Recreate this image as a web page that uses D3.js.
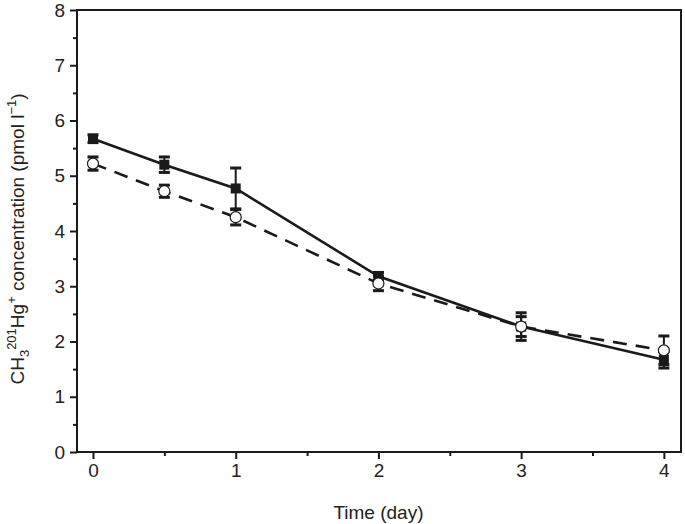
<!DOCTYPE html>
<html><head><meta charset="utf-8">
<script src="https://cdn.jsdelivr.net/npm/d3@7"></script>
<style>body{margin:0;background:#fff}svg{display:block}text{font-family:"Liberation Sans",Arial,Helvetica,sans-serif;fill:#222}</style>
</head><body><svg id="c" width="685" height="524"></svg>
<script>
const days = [0, 0.5, 1, 2, 3, 4];
const filledVals = [5.67, 5.20, 4.77, 3.18, 2.27, 1.67];
const filledErr  = [0.07, 0.14, 0.37, 0.07, 0.18, 0.15];
const openVals   = [5.22, 4.72, 4.25, 3.05, 2.27, 1.84];
const openErr    = [0.12, 0.11, 0.14, 0.13, 0.25, 0.26];
const xTicks = [0, 1, 2, 3, 4];
const xMinor = [0.5, 1.5, 2.5, 3.5];
const yTicks = [0, 1, 2, 3, 4, 5, 6, 7, 8];
const yMinor = [0.5, 1.5, 2.5, 3.5, 4.5, 5.5, 6.5, 7.5];

const svg = d3.select("#c");
const L = 77, R = 681, T = 10, B = 452;
const x = d3.scaleLinear().domain([-0.112, 4.12]).range([L, R]);
const y = d3.scaleLinear().domain([0, 8]).range([B, T]);
const col = "#1a1a1a";

svg.append("rect").attr("x", L).attr("y", T).attr("width", R - L).attr("height", B - T)
  .attr("fill", "none").attr("stroke", col).attr("stroke-width", 2);

const xAx = svg.append("g").attr("transform", `translate(0,${B})`)
  .call(d3.axisBottom(x).tickValues(xTicks).tickSize(7).tickPadding(5).tickFormat(d3.format("d")));
const xAxm = svg.append("g").attr("transform", `translate(0,${B})`)
  .call(d3.axisBottom(x).tickValues(xMinor).tickSize(4).tickFormat(""));
const yAx = svg.append("g").attr("transform", `translate(${L},0)`)
  .call(d3.axisLeft(y).tickValues(yTicks).tickSize(7).tickPadding(5).tickFormat(d3.format("d")));
const yAxm = svg.append("g").attr("transform", `translate(${L},0)`)
  .call(d3.axisLeft(y).tickValues(yMinor).tickSize(4).tickFormat(""));
[xAx, xAxm, yAx, yAxm].forEach(g => {
  g.select(".domain").remove();
  g.selectAll("line").attr("stroke", col).attr("stroke-width", 2);
  g.selectAll("text").attr("font-size", 19).attr("fill", "#222")
    .style("font-family", '"Liberation Sans",Arial,sans-serif');
});

svg.append("text").attr("x", x(2)).attr("y", 519).attr("text-anchor", "middle")
  .attr("font-size", 19).text("Time (day)");
const yl = svg.append("text").attr("transform", `translate(24,${(T + B) / 2 + 8}) rotate(-90)`)
  .attr("text-anchor", "middle").attr("font-size", 19);
yl.append("tspan").text("CH");
yl.append("tspan").attr("font-size", 13).attr("dy", 5).text("3");
yl.append("tspan").attr("font-size", 13).attr("dy", -13).text("201");
yl.append("tspan").attr("dy", 8).text("Hg");
yl.append("tspan").attr("font-size", 13).attr("dy", -8).text("+");
yl.append("tspan").attr("dy", 8).text(" concentration (pmol l");
yl.append("tspan").attr("font-size", 13).attr("dy", -8).text("\u22121");
yl.append("tspan").attr("dy", 8).text(")");

function seriesLine(vals, dashed) {
  const data = days.map((d, i) => ({ d, v: vals[i] }));
  const line = d3.line().x(p => x(p.d)).y(p => y(p.v));
  svg.append("path").datum(data).attr("d", line).attr("fill", "none")
    .attr("stroke", col).attr("stroke-width", 2.6)
    .attr("stroke-dasharray", dashed ? "14,9" : null);
}
function seriesMarks(vals, errs, filled) {
  const data = days.map((d, i) => ({ d, v: vals[i], e: errs[i] }));
  const g = svg.append("g");
  data.forEach(p => {
    const cx = x(p.d);
    g.append("line").attr("x1", cx).attr("x2", cx).attr("y1", y(p.v + p.e)).attr("y2", y(p.v - p.e))
      .attr("stroke", col).attr("stroke-width", 2);
    [p.v + p.e, p.v - p.e].forEach(v => {
      g.append("line").attr("x1", cx - 5.5).attr("x2", cx + 5.5).attr("y1", y(v)).attr("y2", y(v))
        .attr("stroke", col).attr("stroke-width", 3);
    });
    if (filled) {
      g.append("rect").attr("x", cx - 5).attr("y", y(p.v) - 5).attr("width", 10).attr("height", 10)
        .attr("fill", col);
    } else {
      g.append("circle").attr("cx", cx).attr("cy", y(p.v)).attr("r", 5.5)
        .attr("fill", "#fff").attr("stroke", col).attr("stroke-width", 1.2);
    }
  });
}
seriesLine(openVals, true);
seriesLine(filledVals, false);
seriesMarks(filledVals, filledErr, true);
seriesMarks(openVals, openErr, false);
</script></body></html>
